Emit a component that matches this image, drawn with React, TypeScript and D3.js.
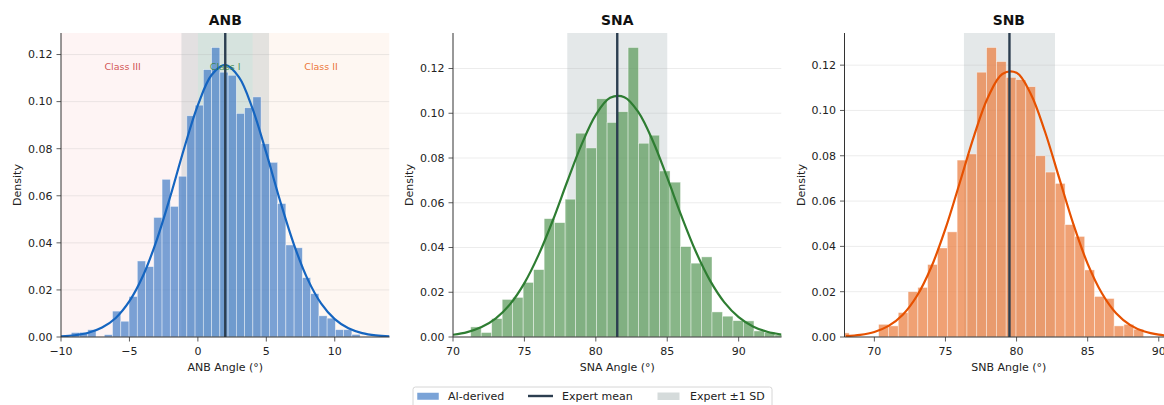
import React from "react";
import * as d3 from "d3";

const W = 1164;
const H = 405;
const PLOT_TOP = 33;
const PLOT_BOTTOM = 337;
const PLOT_W = 328.5;
const PANEL_LEFT = [61, 453, 844.5];

// histogram densities, bins of equal width
const ANB_BIN_START = -9.25;
const ANB_BIN_WIDTH = 0.603;
const ANB_DENSITY = [
  0.0019, 0.002, 0.0031, 0, 0.001, 0.011, 0.0067, 0.0172, 0.0323, 0.0299,
  0.0508, 0.067, 0.0555, 0.0683, 0.094, 0.0985, 0.1136, 0.123, 0.1125, 0.1112,
  0.095, 0.0974, 0.102, 0.0821, 0.0742, 0.0567, 0.0391, 0.0379, 0.0252, 0.0184,
  0.009, 0.008, 0.0031, 0.0031, 0.0011,
];

const SNA_BIN_START = 71.24;
const SNA_BIN_WIDTH = 0.7345;
const SNA_DENSITY = [
  0.0045, 0.002, 0.0082, 0.0168, 0.0177, 0.0244, 0.0301, 0.0529, 0.0511, 0.0616,
  0.0911, 0.0845, 0.1065, 0.0959, 0.1007, 0.1294, 0.0866, 0.0902, 0.0742, 0.0692,
  0.0404, 0.033, 0.0358, 0.0112, 0.0093, 0.0073, 0.0072, 0.0027, 0.0021, 0.0009,
];

const SNB_BIN_START = 67.54;
const SNB_BIN_WIDTH = 0.69;
const SNB_DENSITY = [
  0.0018, 0, 0, 0, 0.0056, 0.0049, 0.0108, 0.02, 0.0219, 0.032, 0.0393, 0.0464,
  0.0781, 0.0808, 0.1169, 0.1278, 0.1216, 0.1146, 0.1136, 0.1105, 0.08, 0.0728,
  0.0678, 0.0496, 0.0444, 0.0296, 0.0179, 0.017, 0.0049, 0.0056, 0.0034,
];

// fitted density curves, one value per degree
const ANB_CURVE_START = -10;
const ANB_CURVE = [
  0.0003, 0.00075, 0.0018, 0.004, 0.0081, 0.0152, 0.0261, 0.0413, 0.06, 0.0802,
  0.0985, 0.1113, 0.1156, 0.1104, 0.0969, 0.0782, 0.058, 0.0396, 0.0248, 0.0143,
  0.0076, 0.0037, 0.00166, 0.00068, 0.00026,
];
const SNA_CURVE_START = 70;
const SNA_CURVE = [
  0.00101, 0.0022, 0.00444, 0.00837, 0.0147, 0.0241, 0.0368, 0.0523, 0.0695,
  0.086, 0.0993, 0.1069, 0.1072, 0.1003, 0.0875, 0.0712, 0.054, 0.0382, 0.0252,
  0.0155, 0.00888, 0.00474, 0.00236, 0.0011,
];
const SNB_CURVE_START = 68;
const SNB_CURVE = [
  0.00036, 0.00093, 0.00222, 0.00489, 0.00985, 0.0182, 0.0308, 0.0478, 0.068,
  0.0886, 0.1059, 0.1161, 0.1166, 0.1073, 0.0906, 0.0701, 0.0497, 0.0323,
  0.0193, 0.0105, 0.00526, 0.00241, 0.00102, 0.00039,
];

// expert reference
const EXPERT_MEAN = [2.0, 81.5, 79.5];
const EXPERT_SD = [3.2, 3.5, 3.2];

const TITLES = ["ANB", "SNA", "SNB"];
const X_LABELS = ["ANB Angle (°)", "SNA Angle (°)", "SNB Angle (°)"];
const X_DOMAINS: [number, number][] = [
  [-10, 14],
  [70, 93],
  [67.9, 91],
];
const X_TICKS = [
  [-10, -5, 0, 5, 10],
  [70, 75, 80, 85, 90],
  [70, 75, 80, 85, 90],
];
const Y_TICKS = [0, 0.02, 0.04, 0.06, 0.08, 0.1, 0.12];

const BAR_COLORS = ["#4780c8", "#5a9a5a", "#ea7d3e"];
const CURVE_COLORS = ["#1565c0", "#2e7d32", "#e65100"];

// ANB skeletal classes
const CLASS_NAMES = ["Class III", "Class I", "Class II"];
const CLASS_RANGES: [number, number][] = [
  [-10, 0],
  [0, 4],
  [4, 14],
];
const CLASS_LABEL_X = [-5.5, 2, 9];
const CLASS_FILL = ["#e74c3c", "#27ae60", "#e67e22"];
const CLASS_TEXT = ["#c62828", "#2e7d32", "#e65100"];

const FONT = "DejaVu Sans, Verdana, sans-serif";
const MEAN_COLOR = "#2c3e50";
const FS = 11;

const panels = [0, 1, 2].map((i) => ({
  title: TITLES[i],
  xLabel: X_LABELS[i],
  xDomain: X_DOMAINS[i],
  xTicks: X_TICKS[i],
  binStart: [ANB_BIN_START, SNA_BIN_START, SNB_BIN_START][i],
  binWidth: [ANB_BIN_WIDTH, SNA_BIN_WIDTH, SNB_BIN_WIDTH][i],
  density: [ANB_DENSITY, SNA_DENSITY, SNB_DENSITY][i],
  curveStart: [ANB_CURVE_START, SNA_CURVE_START, SNB_CURVE_START][i],
  curve: [ANB_CURVE, SNA_CURVE, SNB_CURVE][i],
  mean: EXPERT_MEAN[i],
  sd: EXPERT_SD[i],
  barColor: BAR_COLORS[i],
  curveColor: CURVE_COLORS[i],
  classes: i === 0,
}));

const fmtTick = (v: number) => (v < 0 ? "\u2212" + Math.abs(v) : String(v));

function Panel({ p, idx }: { p: (typeof panels)[number]; idx: number }) {
  const left = PANEL_LEFT[idx];
  const x = d3.scaleLinear().domain(p.xDomain).range([left, left + PLOT_W]);
  const yMax = (d3.max(p.density) || 0.1) * 1.05;
  const y = d3.scaleLinear().domain([0, yMax]).range([PLOT_BOTTOM, PLOT_TOP]);
  const clipId = `clip-${idx}`;

  const line = d3
    .line<number>()
    .x((_, k) => x(p.curveStart + k))
    .y((d) => y(d))
    .curve(d3.curveCatmullRom);

  const cx = left + PLOT_W / 2;

  return (
    <g>
      <defs>
        <clipPath id={clipId}>
          <rect x={left} y={PLOT_TOP} width={PLOT_W} height={PLOT_BOTTOM - PLOT_TOP} />
        </clipPath>
      </defs>
      <g clipPath={`url(#${clipId})`}>
        {p.classes &&
          CLASS_RANGES.map((r, k) => (
            <rect
              key={k}
              x={x(r[0])}
              y={PLOT_TOP}
              width={x(r[1]) - x(r[0])}
              height={PLOT_BOTTOM - PLOT_TOP}
              fill={CLASS_FILL[k]}
              fillOpacity={k === 1 ? 0.09 : 0.06}
            />
          ))}
        <rect
          x={x(p.mean - p.sd)}
          y={PLOT_TOP}
          width={x(p.mean + p.sd) - x(p.mean - p.sd)}
          height={PLOT_BOTTOM - PLOT_TOP}
          fill="#95a5a6"
          fillOpacity={0.25}
        />
        {Y_TICKS.map((t) => (
          <line
            key={t}
            x1={left}
            x2={left + PLOT_W}
            y1={y(t)}
            y2={y(t)}
            stroke="#b0b0b0"
            strokeOpacity={0.3}
            strokeWidth={0.8}
          />
        ))}
        {p.density.map((d, k) => {
          const x0 = p.binStart + k * p.binWidth;
          return (
            <rect
              key={k}
              x={x(x0)}
              y={y(d)}
              width={x(x0 + p.binWidth) - x(x0)}
              height={y(0) - y(d)}
              fill={p.barColor}
              fillOpacity={0.72}
              stroke="#ffffff"
              strokeOpacity={0.6}
              strokeWidth={0.7}
            />
          );
        })}
        <path d={line(p.curve) || ""} fill="none" stroke={p.curveColor} strokeWidth={2.2} />
        <line
          x1={x(p.mean)}
          x2={x(p.mean)}
          y1={PLOT_TOP}
          y2={PLOT_BOTTOM}
          stroke={MEAN_COLOR}
          strokeWidth={2.4}
        />
        {p.classes &&
          CLASS_NAMES.map((n, k) => (
            <text
              key={n}
              x={x(CLASS_LABEL_X[k])}
              y={y(yMax * 0.89)}
              dy="0.35em"
              textAnchor="middle"
              fontSize={9.5}
              fill={CLASS_TEXT[k]}
              fillOpacity={0.8}
            >
              {n}
            </text>
          ))}
      </g>
      {/* spines */}
      <line x1={left} x2={left} y1={PLOT_TOP} y2={PLOT_BOTTOM} stroke="#333" strokeWidth={1} />
      <line x1={left} x2={left + PLOT_W} y1={PLOT_BOTTOM} y2={PLOT_BOTTOM} stroke="#333" strokeWidth={1} />
      {Y_TICKS.map((t) => (
        <g key={t}>
          <line x1={left - 4.5} x2={left} y1={y(t)} y2={y(t)} stroke="#333" strokeWidth={0.8} />
          <text x={left - 8.5} y={y(t)} dy="0.35em" textAnchor="end" fontSize={FS} fill="#222">
            {t.toFixed(2)}
          </text>
        </g>
      ))}
      {p.xTicks.map((t) => (
        <g key={t}>
          <line x1={x(t)} x2={x(t)} y1={PLOT_BOTTOM} y2={PLOT_BOTTOM + 4.5} stroke="#333" strokeWidth={0.8} />
          <text x={x(t)} y={PLOT_BOTTOM + 18} textAnchor="middle" fontSize={FS} fill="#222">
            {fmtTick(t)}
          </text>
        </g>
      ))}
      <text x={cx} y={PLOT_BOTTOM + 34} textAnchor="middle" fontSize={FS} fill="#222">
        {p.xLabel}
      </text>
      <text
        transform={`translate(${left - 40},${(PLOT_TOP + PLOT_BOTTOM) / 2}) rotate(-90)`}
        textAnchor="middle"
        fontSize={FS}
        fill="#222"
      >
        Density
      </text>
      <text x={cx} y={PLOT_TOP - 8} textAnchor="middle" fontSize={13.9} fontWeight="bold" fill="#111">
        {p.title}
      </text>
    </g>
  );
}

function Legend() {
  return (
    <g fontSize={FS} fill="#222">
      <rect x={413} y={387} width={359} height={24} rx={2.5} fill="#fff" fillOpacity={0.9} stroke="#cccccc" strokeWidth={0.8} />
      <rect x={417} y={392.5} width={22} height={7.5} fill={BAR_COLORS[0]} fillOpacity={0.72} stroke="#fff" strokeWidth={0.5} />
      <text x={448} y={396} dy="0.35em">AI-derived</text>
      <line x1={528} x2={553} y1={396} y2={396} stroke={MEAN_COLOR} strokeWidth={2.4} />
      <text x={562} y={396} dy="0.35em">Expert mean</text>
      <rect x={657.5} y={392.5} width={22} height={7.5} fill="#95a5a6" fillOpacity={0.4} />
      <text x={690} y={396} dy="0.35em">Expert ±1 SD</text>
    </g>
  );
}

export default function App() {
  return (
    <div style={{ position: "fixed", left: 0, top: 0, width: W, height: H, background: "#fff" }}>
      <svg width={W} height={H} style={{ display: "block", fontFamily: FONT }}>
        <rect width={W} height={H} fill="#fff" />
        {panels.map((p, i) => (
          <Panel key={i} p={p} idx={i} />
        ))}
        <Legend />
      </svg>
    </div>
  );
}
